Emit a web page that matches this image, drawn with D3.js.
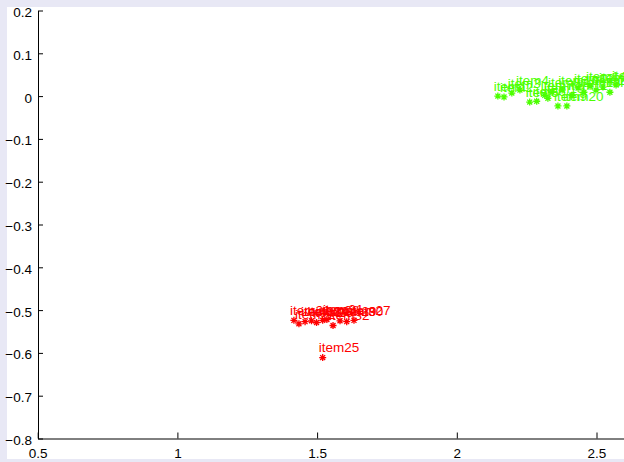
<!DOCTYPE html>
<html>
<head>
<meta charset="utf-8">
<script src="https://cdn.jsdelivr.net/npm/d3@7"></script>
<style>
  html, body { margin: 0; padding: 0; background: #e8e8f5; }
  svg { display: block; }
  text { font-family: "Liberation Sans", Arial, Helvetica, sans-serif; }
</style>
</head>
<body>
<svg id="chart" width="624" height="462"></svg>
<script>
// Cluster A (red): items 21-32
const redNames = ["item21","item22","item23","item24","item25","item26",
                  "item27","item28","item29","item30","item31","item32"];
const redX = [1.417, 1.435, 1.457, 1.480, 1.520, 1.498, 1.632, 1.520, 1.582, 1.606, 1.535, 1.557];
const redY = [-0.524, -0.532, -0.527, -0.525, -0.611, -0.529, -0.524, -0.524, -0.525, -0.527, -0.522, -0.536];

// Cluster B (green): items 1-20
const greenNames = ["item1","item2","item3","item4","item5","item6","item7","item8","item9","item10",
                    "item11","item12","item13","item14","item15","item16","item17","item18","item19","item20"];
const greenX = [2.147, 2.169, 2.197, 2.226, 2.261, 2.286, 2.315, 2.341, 2.362, 2.377,
                2.412, 2.434, 2.455, 2.477, 2.498, 2.523, 2.548, 2.570, 2.326, 2.394];
const greenY = [0.000, -0.002, 0.007, 0.014, -0.014, -0.012, 0.002, 0.009, -0.023, 0.014,
                0.002, 0.019, 0.009, 0.023, 0.014, 0.021, 0.009, 0.026, -0.005, -0.023];

const xTicks = [0.5, 1, 1.5, 2, 2.5];
const yTicks = [0.2, 0.1, 0, -0.1, -0.2, -0.3, -0.4, -0.5, -0.6, -0.7, -0.8];

const svg = d3.select("#chart");

// white figure panel
svg.append("rect").attr("x", 7).attr("y", 7).attr("width", 640).attr("height", 452).attr("fill", "#ffffff");

const x = d3.scaleLinear().domain([0.5, 3]).range([37.7, 736.2]);
const y = d3.scaleLinear().domain([-0.8, 0.2]).range([438.5, 10.5]);

const fontSize = "13.5px";

// x axis
const gx = svg.append("g").attr("transform", "translate(0,438.5)")
  .call(d3.axisBottom(x).tickValues(xTicks).tickFormat(d3.format("")).tickSizeInner(-6).tickSizeOuter(0).tickPadding(10));
gx.selectAll("text").attr("font-size", fontSize).attr("fill", "#000").attr("font-family", "Liberation Sans, Arial, sans-serif");

// y axis
const gy = svg.append("g").attr("transform", "translate(38,0)")
  .call(d3.axisLeft(y).tickValues(yTicks).tickFormat(d3.format("")).tickSizeInner(-5).tickSizeOuter(0).tickPadding(6));
gy.selectAll("text").attr("font-size", fontSize).attr("fill", "#000").attr("dy", "0.45em").attr("font-family", "Liberation Sans, Arial, sans-serif");

svg.selectAll(".domain, .tick line").attr("stroke", "#000").attr("stroke-width", 1);

// asterisk marker path centred at origin
const r = 3.5;
const d45 = r * Math.SQRT1_2;
const asterisk = `M${-r},0L${r},0M0,${-r}L0,${r}M${-d45},${-d45}L${d45},${d45}M${-d45},${d45}L${d45},${-d45}`;

function drawSeries(names, xs, ys, color) {
  const data = names.map((n, i) => ({ name: n, x: xs[i], y: ys[i] }));
  const g = svg.append("g");
  g.selectAll("path.m").data(data).join("path")
    .attr("class", "m")
    .attr("d", asterisk)
    .attr("transform", d => `translate(${x(d.x)},${y(d.y)})`)
    .attr("stroke", color).attr("stroke-width", 1.3).attr("fill", "none");
  g.selectAll("text.lbl").data(data).join("text")
    .attr("class", "lbl")
    .attr("x", d => x(d.x) - 4)
    .attr("y", d => y(d.y) - 10)
    .attr("dy", "0.35em")
    .attr("font-size", fontSize)
    .attr("fill", color)
    .text(d => d.name);
}

drawSeries(redNames, redX, redY, "#ff0000");
drawSeries(greenNames, greenX, greenY, "#4cff00");

// page margin below the panel
svg.append("rect").attr("x", 0).attr("y", 459).attr("width", 624).attr("height", 3).attr("fill", "#e8e8f5");
</script>
</body>
</html>
